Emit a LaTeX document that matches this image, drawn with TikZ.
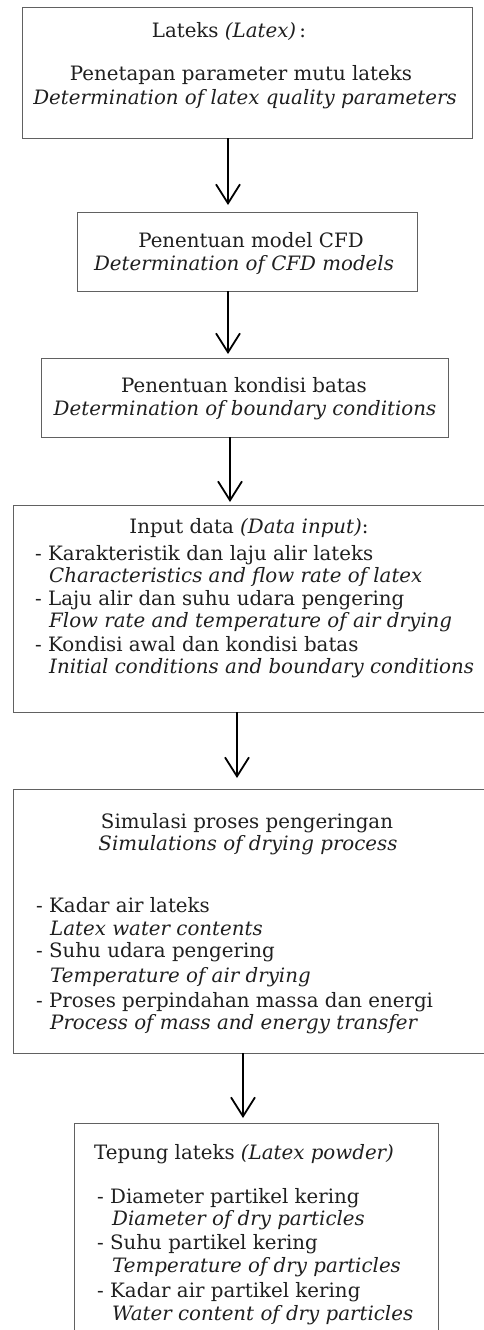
\documentclass[tikz,border=0pt]{standalone}
\usepackage{fontspec}
\setmainfont{DejaVu Serif}
\usetikzlibrary{arrows.meta}
\begin{document}
\begin{tikzpicture}[x=1pt,y=-1pt,
  box/.style={draw=black!62, line width=0.9pt, inner sep=0pt, outer sep=0pt, anchor=north west},
  txt/.style={inner sep=0pt, text=black!88, font=\fontsize{19.8}{23}\selectfont},
  ctr/.style={txt, anchor=mid},
  lft/.style={txt, anchor=mid west},
  arr/.style={line width=1.8pt, -{Straight Barb[length=19pt,width=24pt,line width=1.8pt]}}]
\useasboundingbox (0,0) rectangle (484,1330);
\clip (0,0) rectangle (484,1330);
% boxes
\node[box, minimum width=450, minimum height=131] (b1) at (22,7) {};
\node[box, minimum width=340, minimum height=79] (b2) at (77,212) {};
\node[box, minimum width=407, minimum height=79] (b3) at (41,358) {};
\node[box, minimum width=500, minimum height=207] (b4) at (13,505) {};
\node[box, minimum width=500, minimum height=264] (b5) at (13,789) {};
\node[box, minimum width=364, minimum height=300] (b6) at (74,1123) {};
% box 1
\node[ctr] (t11) at (229,35) {Lateks \textit{(Latex)}\,:};
\node[ctr] (t12) at (241,78) {Penetapan parameter mutu lateks};
\node[ctr] (t13) at (245,102) {\textit{Determination of latex quality parameters}};
% box 2
\node[ctr] (t21) at (251,245) {Penentuan model CFD};
\node[ctr] (t22) at (244,268) {\textit{Determination of CFD models}};
% box 3
\node[ctr] (t31) at (244,390) {Penentuan kondisi batas};
\node[ctr] (t32) at (245,413) {\textit{Determination of boundary conditions}};
% box 4
\node[ctr] (t41) at (249,531) {Input data \textit{(Data input)}:};
\node[lft] (t42) at (35,558) {- Karakteristik dan laju alir lateks};
\node[lft] (t43) at (49,580) {\textit{Characteristics and flow rate of latex}};
\node[lft] (t44) at (35,603) {- Laju alir dan suhu udara pengering};
\node[lft] (t45) at (49,625) {\textit{Flow rate and temperature of air drying}};
\node[lft] (t46) at (35,649) {- Kondisi awal dan kondisi batas};
\node[lft] (t47) at (49,671) {\textit{Initial conditions and boundary conditions}};
% box 5
\node[ctr] (t51) at (247,826) {Simulasi proses pengeringan};
\node[ctr] (t52) at (248,848) {\textit{Simulations of drying process}};
\node[lft] (t53) at (36,910) {- Kadar air lateks};
\node[lft] (t54) at (50,933) {\textit{Latex water contents}};
\node[lft] (t55) at (36,955) {- Suhu udara pengering};
\node[lft] (t56) at (50,980) {\textit{Temperature of air drying}};
\node[lft] (t57) at (36,1005) {- Proses perpindahan massa dan energi};
\node[lft] (t58) at (50,1027) {\textit{Process of mass and energy transfer}};
% box 6
\node[lft] (t61) at (94,1157) {Tepung lateks \textit{(Latex powder)}};
\node[lft] (t62) at (97,1201) {- Diameter partikel kering};
\node[lft] (t63) at (112,1223) {\textit{Diameter of dry particles}};
\node[lft] (t64) at (97,1247) {- Suhu partikel kering};
\node[lft] (t65) at (112,1270) {\textit{Temperature of dry particles}};
\node[lft] (t66) at (97,1295) {- Kadar air partikel kering};
\node[lft] (t67) at (112,1318) {\textit{Water content of dry particles}};
% arrows
\draw[arr] (228,0 |- b1.south) -- (228,205);
\draw[arr] (228,0 |- b2.south) -- (228,354);
\draw[arr] (230,0 |- b3.south) -- (230,502);
\draw[arr] (237,0 |- b4.south) -- (237,778);
\draw[arr] (243,0 |- b5.south) -- (243,1118);
\end{tikzpicture}
\end{document}
